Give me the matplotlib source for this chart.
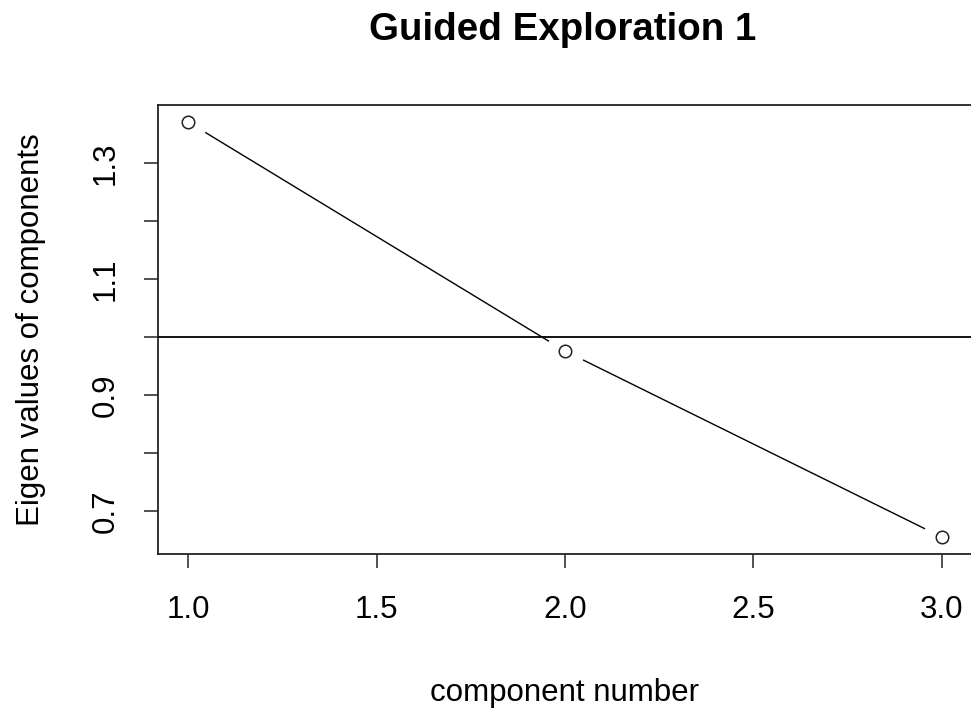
import numpy as np
import matplotlib.pyplot as plt

plt.rcParams['font.family'] = ['Liberation Sans', 'DejaVu Sans']

components = [1, 2, 3]
eigenvalues = [1.371, 0.976, 0.655]
x_ticks = [1.0, 1.5, 2.0, 2.5, 3.0]
y_ticks = [0.7, 0.8, 0.9, 1.0, 1.1, 1.2, 1.3]
y_labels = ['0.7', '', '0.9', '', '1.1', '', '1.3']

fig = plt.figure(figsize=(9.71, 7.13), dpi=100)
ax = fig.add_axes([0.1627, 0.2234, 0.8383, 0.6288])

# type="b": line with gaps round the points
ax.plot(components, eigenvalues, color='black', linewidth=1.0, zorder=1)
ax.plot(components, eigenvalues, 'o', markersize=27, markerfacecolor='white',
        markeredgecolor='white', zorder=2)
ax.plot(components, eigenvalues, 'o', markersize=9, markerfacecolor='white',
        markeredgecolor='#222222', markeredgewidth=1.1, zorder=4)
ax.axhline(1.0, color='black', linewidth=1.3, zorder=3)

ax.set_xlim(0.92, 3.08)
pad = (max(eigenvalues) - min(eigenvalues)) * 0.04
ax.set_ylim(min(eigenvalues) - pad, max(eigenvalues) + pad)

ax.set_xticks(x_ticks)
ax.set_xticklabels(['1.0', '1.5', '2.0', '2.5', '3.0'])
ax.set_yticks(y_ticks)
ax.set_yticklabels(y_labels, rotation=90, va='center')
ax.tick_params(length=10, width=1.2, labelsize=22.5, color='#333333')
ax.tick_params(axis='x', pad=20)
ax.tick_params(axis='y', pad=17)

for s in ax.spines.values():
    s.set_linewidth(1.3)
    s.set_color('#222222')

ax.set_xlabel('component number', fontsize=22.5, labelpad=38)
ax.set_ylabel('Eigen values of components', fontsize=22.5, labelpad=32)
fig.text(0.58, 0.958, 'Guided Exploration 1', fontsize=27.7, fontweight='bold',
         ha='center', va='center')

fig.savefig('out.png', dpi=100)
